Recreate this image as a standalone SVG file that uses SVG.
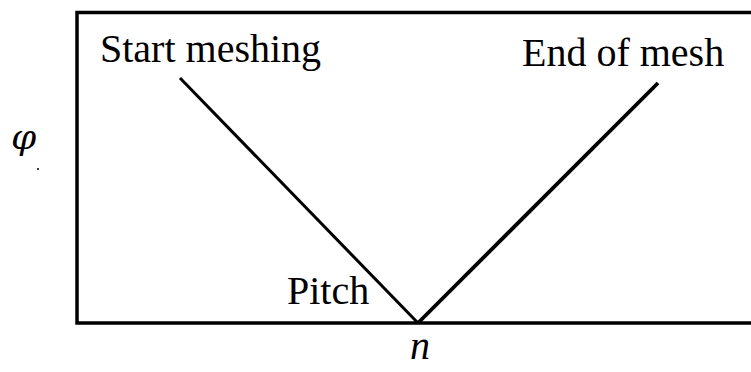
<svg xmlns="http://www.w3.org/2000/svg" width="751" height="372" viewBox="0 0 751 372">
<style>
.t{font-family:'Liberation Serif','Times New Roman',serif;font-size:40px;fill:#000}
.g{font-family:'DejaVu Serif',serif;font-size:36px;font-style:italic;fill:#000}
.i{font-style:italic}
.ln{stroke:#000;fill:none;stroke-linecap:butt}
</style>
<rect x="0" y="0" width="751" height="372" fill="#fff"/>
<g id="frame">
<path class="ln" d="M760 12.5 H77 V323 H760" stroke-width="3.5"/>
</g>
<g id="connectors">
<line class="ln" x1="180" y1="78" x2="418" y2="323" stroke-width="3"/>
<line class="ln" x1="418" y1="323" x2="658" y2="83" stroke-width="3.8"/>
</g>
<g id="start"><text class="t" x="100" y="62">Start meshing</text></g>
<g id="end"><text class="t" x="522" y="66">End of mesh</text></g>
<g id="pitch"><text class="t" x="287" y="304" font-size="39">Pitch</text></g>
<g id="phi"><text class="g" x="11" y="149">φ</text><circle cx="38" cy="169" r="1" fill="#000"/></g>
<g id="n"><text class="t i" x="410" y="359">n</text></g>
</svg>
